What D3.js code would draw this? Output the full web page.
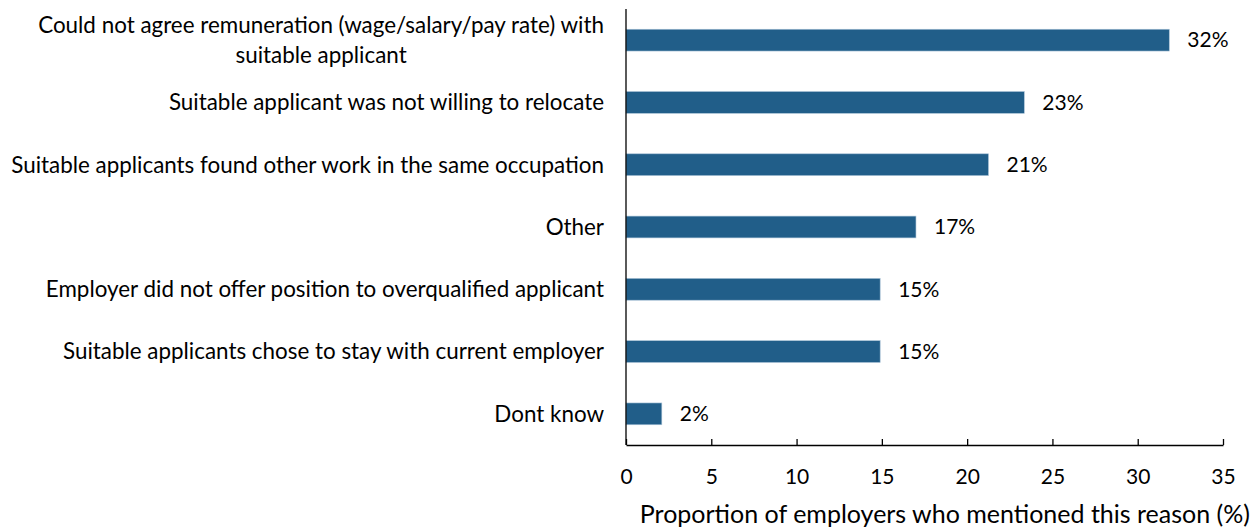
<!DOCTYPE html>
<html>
<head>
<meta charset="utf-8">
<script src="https://cdn.jsdelivr.net/npm/d3@7"></script>
<style>
  body { margin: 0; background: #fff; }
  text { font-family: Lato, "Open Sans", sans-serif; fill: #000; }
</style>
</head>
<body>
<div id="chart"></div>
<script>
// Chart size, same as the window
const w = 1257;
const h = 529;
const margin = { top: 9, right: 34, bottom: 84, left: 626 };

// Reasons, top to bottom (first one wraps into two lines)
const reasons = [
  ["Could not agree remuneration (wage/salary/pay rate) with", "suitable applicant"],
  ["Suitable applicant was not willing to relocate"],
  ["Suitable applicants found other work in the same occupation"],
  ["Other"],
  ["Employer did not offer position to overqualified applicant"],
  ["Suitable applicants chose to stay with current employer"],
  ["Dont know"]
];
// Proportion of employers (%)
const values = [31.85, 23.35, 21.25, 17.0, 14.9, 14.9, 2.1];
// Labels printed next to the bars
const valueLabels = ["32%", "23%", "21%", "17%", "15%", "15%", "2%"];
const xTicks = [0, 5, 10, 15, 20, 25, 30, 35];
const xTitle = "Proportion of employers who mentioned this reason (%)";

const dataset = reasons.map((r, i) => ({ key: i, lines: r, value: values[i], label: valueLabels[i] }));

const svg = d3.select("#chart").append("svg")
  .attr("width", w)
  .attr("height", h);

const xScale = d3.scaleLinear()
  .domain([0, 35])
  .range([margin.left, w - margin.right]);

const yScale = d3.scaleBand()
  .domain(dataset.map(d => d.key))
  .range([margin.top, h - margin.bottom])
  .paddingInner(0.65)
  .paddingOuter(0.325);

const barColor = "#215e89";
const labelSize = "22.4px";

// Bars
svg.selectAll("rect.bar")
  .data(dataset)
  .enter()
  .append("rect")
  .attr("class", "bar")
  .attr("x", xScale(0))
  .attr("y", d => yScale(d.key))
  .attr("width", d => xScale(d.value) - xScale(0))
  .attr("height", yScale.bandwidth())
  .attr("fill", barColor)
  .attr("stroke", "#a9c2d6")
  .attr("stroke-width", 0.6);

// Value labels
svg.selectAll("text.value")
  .data(dataset)
  .enter()
  .append("text")
  .attr("class", "value")
  .attr("x", d => xScale(d.value) + 18)
  .attr("y", d => yScale(d.key) + yScale.bandwidth() / 2)
  .attr("dy", "0.35em")
  .style("font-size", "21px")
  .text(d => d.label);

// X axis, ticks point up into the plot
const xAxis = d3.axisBottom(xScale)
  .tickValues(xTicks)
  .tickSizeInner(-6)
  .tickSizeOuter(0)
  .tickPadding(24);

const gx = svg.append("g")
  .attr("transform", `translate(0,${h - margin.bottom})`)
  .call(xAxis);
gx.select(".domain").attr("stroke", "#000").attr("stroke-width", 1.3);
gx.selectAll(".tick line").attr("stroke", "#000").attr("stroke-width", 1.3);
gx.selectAll(".tick text")
  .style("font-size", "21px")
  .style("font-family", "Lato, sans-serif");

// Y axis line only, labels drawn by hand so the first one can wrap
svg.append("line")
  .attr("x1", xScale(0)).attr("x2", xScale(0))
  .attr("y1", margin.top).attr("y2", h - margin.bottom)
  .attr("stroke", "#000")
  .attr("stroke-width", 1.3);

const labelRight = margin.left - 22;
dataset.forEach(d => {
  const cy = yScale(d.key) + yScale.bandwidth() / 2;
  if (d.lines.length === 1) {
    svg.append("text")
      .attr("x", labelRight)
      .attr("y", cy)
      .attr("dy", "0.35em")
      .attr("text-anchor", "end")
      .style("font-size", labelSize)
      .text(d.lines[0]);
  } else {
    // wrapped label: lines centred on the first (widest) line
    const first = svg.append("text")
      .attr("x", labelRight)
      .attr("y", cy - 15)
      .attr("dy", "0.35em")
      .attr("text-anchor", "end")
      .style("font-size", labelSize)
      .text(d.lines[0]);
    const width = first.node().getComputedTextLength();
    svg.append("text")
      .attr("x", labelRight - width / 2)
      .attr("y", cy + 15)
      .attr("dy", "0.35em")
      .attr("text-anchor", "middle")
      .style("font-size", labelSize)
      .text(d.lines[1]);
  }
});

// Axis title
svg.append("text")
  .attr("x", w - 7)
  .attr("y", h - 6)
  .attr("text-anchor", "end")
  .style("font-size", "25px")
  .text(xTitle);
</script>
</body>
</html>
